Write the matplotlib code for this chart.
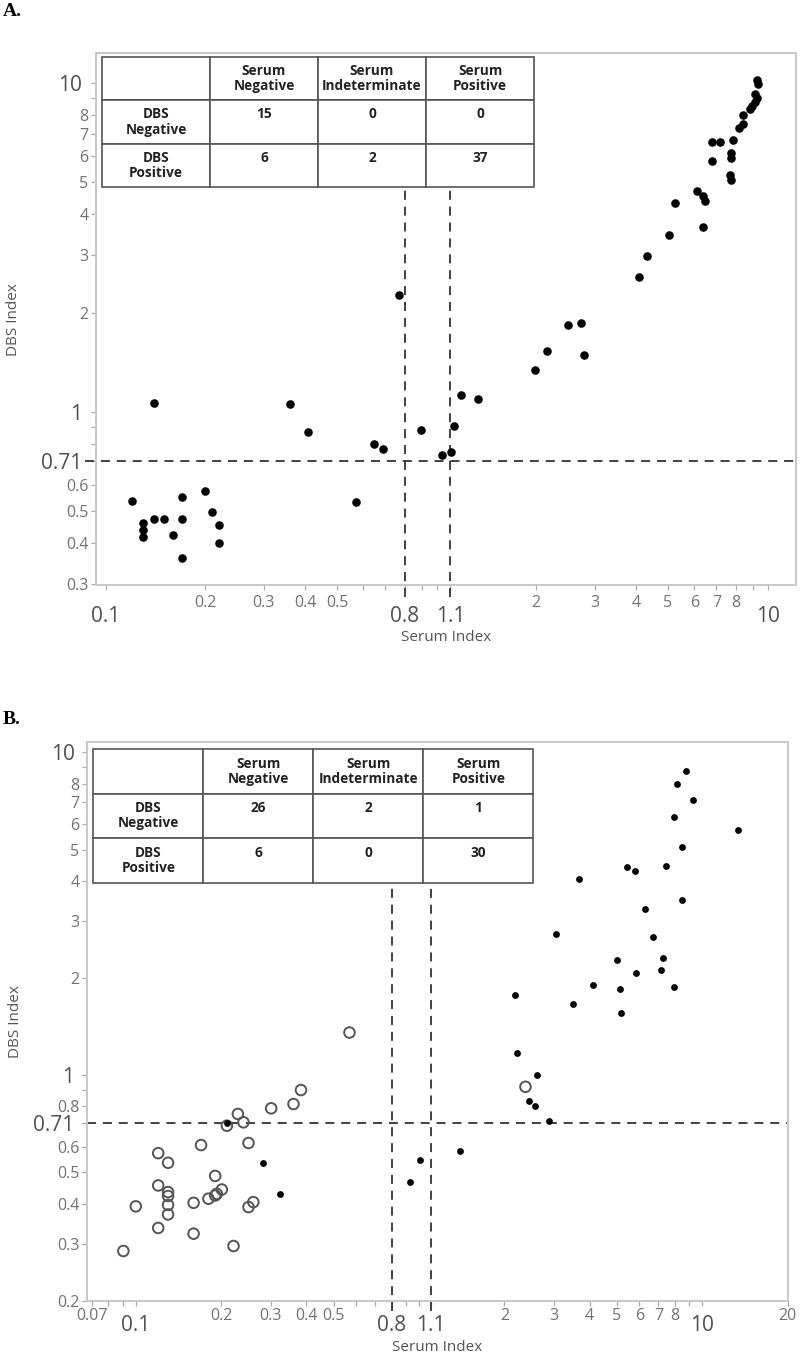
import matplotlib
matplotlib.use("Agg")
import matplotlib.pyplot as plt

# ---- panel A data (serum index, DBS index) ----
a_serum = [0.120, 0.140, 0.130, 0.130, 0.130, 0.140, 0.150, 0.160, 0.170, 0.170,
           0.170, 0.200, 0.210, 0.220, 0.220, 0.360, 0.409, 0.569, 0.648, 0.690,
           0.769, 0.897, 1.035, 1.104, 1.128, 1.187, 1.336, 1.98, 2.15, 2.50,
           2.73, 2.78,
           4.09, 4.33, 5.03, 5.26, 6.11, 6.38, 6.47, 6.38, 6.79, 6.79,
           7.18, 7.75, 7.75, 7.70, 7.75, 7.86, 8.19, 8.42, 8.42, 8.84,
           8.97, 9.15, 9.28, 9.15, 9.37, 9.27]
a_dbs = [0.535, 1.065, 0.460, 0.439, 0.416, 0.474, 0.474, 0.423, 0.550, 0.474,
         0.361, 0.576, 0.495, 0.454, 0.400, 1.057, 0.869, 0.531, 0.797, 0.773,
         2.27, 0.879, 0.738, 0.757, 0.904, 1.123, 1.097, 1.342, 1.536, 1.838,
         1.868, 1.490,
         2.57, 2.97, 3.44, 4.31, 4.68, 4.52, 4.37, 3.65, 5.80, 6.60,
         6.60, 6.13, 5.92, 5.26, 5.06, 6.72, 7.31, 7.52, 8.01, 8.34,
         8.53, 8.77, 9.02, 9.28, 9.95, 10.18]

# ---- panel B data ----
b_open_serum = [0.0904, 0.100, 0.120, 0.120, 0.120, 0.130, 0.130, 0.130, 0.130, 0.130,
                0.160, 0.160, 0.170, 0.1805, 0.1907, 0.1907, 0.1932, 0.2013, 0.2097, 0.2293,
                0.240, 0.250, 0.250, 0.260, 0.2213, 0.3006, 0.3604, 0.383, 0.568, 2.375]
b_open_dbs = [0.285, 0.392, 0.573, 0.455, 0.336, 0.535, 0.434, 0.422, 0.396, 0.370,
              0.402, 0.3225, 0.607, 0.414, 0.487, 0.4235, 0.4286, 0.442, 0.697, 0.758,
              0.714, 0.616, 0.390, 0.404, 0.2954, 0.789, 0.8136, 0.899, 1.355, 0.920]
b_fill_serum = [0.2097, 0.2803, 0.322, 0.932, 1.011, 1.392, 2.189, 2.220, 2.612, 2.453,
                2.576, 2.88, 3.49, 4.107, 5.115, 5.175, 5.01, 5.81, 7.12, 7.27,
                7.92, 8.73, 8.11, 9.29, 7.94, 13.36, 8.50, 5.43, 5.78, 7.46,
                3.66, 8.50, 6.30, 3.04, 6.71]
b_fill_dbs = [0.710, 0.536, 0.428, 0.468, 0.545, 0.582, 1.777, 1.170, 1.002, 0.833,
              0.800, 0.719, 1.665, 1.907, 1.845, 1.555, 2.27, 2.07, 2.116, 2.31,
              1.875, 8.78, 7.99, 7.13, 6.33, 5.73, 5.11, 4.41, 4.28, 4.44,
              4.04, 3.48, 3.28, 2.73, 2.68]

# ---- tables ----
col_heads = ["Serum\nNegative", "Serum\nIndeterminate", "Serum\nPositive"]
row_heads = ["DBS\nNegative", "DBS\nPositive"]
a_counts = [[15, 0, 0], [6, 2, 37]]
b_counts = [[26, 2, 1], [6, 0, 30]]

serum_cuts = [0.8, 1.1]
dbs_cut = 0.71

# ---- ticks ----
x_major = [0.1, 0.8, 1.1, 10]
x_major_lab = ["0.1", "0.8", "1.1", "10"]
y_major = [0.71, 1, 10]
y_major_lab = ["0.71", "1", "10"]

a_x_minor = [0.2, 0.3, 0.4, 0.5, 0.6, 0.7, 0.9, 1, 2, 3, 4, 5, 6, 7, 8, 9]
a_x_minor_lab = ["0.2", "0.3", "0.4", "0.5", "", "", "", "", "2", "3", "4", "5", "6", "7", "8", ""]
a_y_minor = [0.3, 0.4, 0.5, 0.6, 0.8, 0.9, 2, 3, 4, 5, 6, 7, 8, 9]
a_y_minor_lab = ["0.3", "0.4", "0.5", "0.6", "", "", "2", "3", "4", "5", "6", "7", "8", ""]

b_x_minor = [0.07, 0.08, 0.09, 0.2, 0.3, 0.4, 0.5, 0.6, 0.7, 0.9, 1, 2, 3, 4, 5, 6, 7, 8, 9, 20]
b_x_minor_lab = ["0.07", "", "", "0.2", "0.3", "0.4", "0.5", "", "", "", "", "2", "3", "4", "5",
                 "6", "7", "8", "", "20"]
b_y_minor = [0.2, 0.3, 0.4, 0.5, 0.6, 0.8, 0.9, 2, 3, 4, 5, 6, 7, 8, 9]
b_y_minor_lab = ["0.2", "0.3", "0.4", "0.5", "0.6", "0.8", "", "2", "3", "4", "5", "6", "7", "8", ""]

FONT = ["Open Sans", "DejaVu Sans"]
plt.rcParams['font.family'] = FONT

W, H = 800, 1362
fig = plt.figure(figsize=(W / 100, H / 100), dpi=100)


def px_box(l, t, r, b):
    return [l / W, 1 - b / H, (r - l) / W, (b - t) / H]


def style(ax, xlim, ylim, xmin_t, xmin_lab, ymin_t, ymin_lab, pads):
    ax.set_xscale('log')
    ax.set_yscale('log')
    ax.set_xlim(*xlim)
    ax.set_ylim(*ylim)
    ax.set_xticks(x_major, x_major_lab)
    ax.set_xticks(xmin_t, xmin_lab, minor=True)
    ax.set_yticks(y_major, y_major_lab)
    ax.set_yticks(ymin_t, ymin_lab, minor=True)
    for s in ax.spines.values():
        s.set_color('#c8c8c8')
        s.set_linewidth(1.4)
    ax.tick_params(which='both', direction='out', length=3.8, width=0.9, color='#a8a8a8')
    ax.tick_params(which='major', labelsize=15, labelcolor='#505050')
    ax.tick_params(which='minor', labelsize=11.5, labelcolor='#727272')
    ax.tick_params(axis='x', which='minor', pad=pads[0])
    ax.tick_params(axis='x', which='major', pad=pads[1])
    ax.tick_params(axis='y', which='minor', pad=pads[2])
    ax.tick_params(axis='y', which='major', pad=pads[3])
    ax.set_xlabel("Serum Index", fontsize=11, color='#555555')
    ax.set_ylabel("DBS Index", fontsize=11, color='#555555')


def add_table(ax, counts, bbox):
    cells = [[""] + col_heads]
    for lab, row in zip(row_heads, counts):
        cells.append([lab] + [f"{c}\n " for c in row])
    tb = ax.table(cellText=cells, cellLoc='center', bbox=bbox, zorder=5)
    tb.auto_set_font_size(False)
    tb.set_fontsize(9.8)
    for cell in tb.get_celld().values():
        cell.set_edgecolor('#555555')
        cell.set_linewidth(1.2)
        cell.set_facecolor('white')
        cell.get_text().set_fontweight('bold')
        cell.get_text().set_color('#222222')
        cell.get_text().set_linespacing(1.1)
    return tb


def draw_cuts(ax, hx0, vbot, vtop):
    ax.axhline(dbs_cut, xmin=hx0, xmax=1, color='#333333', lw=1.3,
               ls=(0, (5, 3.8)), clip_on=False, zorder=2)
    for c in serum_cuts:
        ax.axvline(c, ymin=vbot, ymax=vtop, color='#333333', lw=1.3,
                   ls=(0, (5, 3.8)), clip_on=False, zorder=2)


# ---------------- panel A ----------------
axA = fig.add_axes(px_box(95.7, 53.3, 796, 585))
style(axA, (0.0933, 12.18), (0.298, 12.3), a_x_minor, a_x_minor_lab,
      a_y_minor, a_y_minor_lab, pads=(3.5, 11, 1.5, 6))
draw_cuts(axA, -0.015, -0.022, 0.748)
axA.scatter(a_serum, a_dbs, s=38, color='black', linewidths=0, zorder=4)
add_table(axA, a_counts, [0.009, 0.748, 0.617, 0.2456])
axA.xaxis.set_label_coords(0.5, -0.098)
axA.yaxis.set_label_coords(-0.117, 0.5)

# ---------------- panel B ----------------
axB = fig.add_axes(px_box(86.7, 742.3, 787.7, 1301))
style(axB, (0.0671, 20.02), (0.1995, 10.75), b_x_minor, b_x_minor_lab,
      b_y_minor, b_y_minor_lab, pads=(1.5, 6.5, 1.5, 5))
draw_cuts(axB, 0.0, -0.018, 0.74)
axB.scatter(b_open_serum, b_open_dbs, s=58, facecolors='none', edgecolors='#555555',
            linewidths=1.4, zorder=3)
axB.scatter(b_fill_serum, b_fill_dbs, s=24, color='black', linewidths=0, zorder=4)
add_table(axB, b_counts, [0.0094, 0.7487, 0.6277, 0.2393])
axB.xaxis.set_label_coords(0.5, -0.083)
axB.yaxis.set_label_coords(-0.102, 0.5)

for ax in (axA, axB):
    ax.xaxis.label.set_va('center')
    ax.yaxis.label.set_va('center')

fig.text(3 / W, 1 - 12 / H, "A.", family="Liberation Serif", fontweight='bold',
         fontsize=14, va='center', ha='left')
fig.text(3 / W, 1 - 720 / H, "B.", family="Liberation Serif", fontweight='bold',
         fontsize=14, va='center', ha='left')

fig.savefig("out.png", dpi=100)
